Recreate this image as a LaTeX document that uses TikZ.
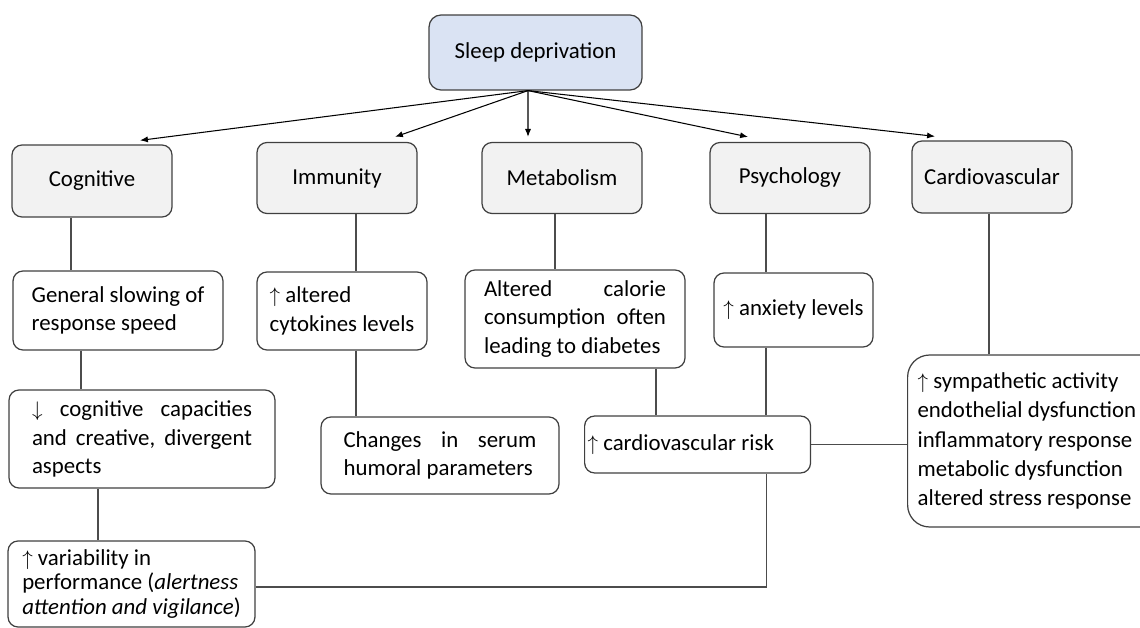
\documentclass[tikz,border=0pt]{standalone}
\usepackage{fontspec}
\setmainfont{Carlito}
\usetikzlibrary{arrows.meta}

\definecolor{rootblue}{HTML}{DAE3F3}
\newcommand{\upar}{$\uparrow$}
\newcommand{\dnar}{$\downarrow$}

\begin{document}
\begin{tikzpicture}[x=0.02cm, y=-0.02cm,
    font=\fontsize{13}{16.2}\selectfont,
    box/.style={draw=black!75, line width=0.7pt, rounded corners=0.2cm, inner sep=0pt},
    topic/.style={box, fill=black!5, minimum width=3.2cm, minimum height=1.42cm},
    effect/.style={box, fill=white},
    link/.style={draw=black!70, line width=0.6pt},
    arr/.style={-{Latex[length=4.5pt,width=3.5pt]}, line width=0.6pt}]
    \useasboundingbox (0,0) rectangle (1140,628);
    \clip (0,0) rectangle (1140,628);

    % Root
    \node[box, fill=rootblue, rounded corners=0.24cm, minimum width=4.26cm, minimum height=1.5cm] (sleep) at (535.5,52.5) {Sleep deprivation};

    % Areas
    \node[topic, minimum height=1.44cm] (cog) at (92,181) {Cognitive};
    \node[topic] (imm) at (337,178) {Immunity};
    \node[topic] (met) at (562,178) {Metabolism};
    \node[topic] (psy) at (790,178) {Psychology};
    \node[topic, minimum height=1.44cm] (car) at (992,177) {Cardiovascular};

    % Arrows
    \coordinate (hub) at ([xshift=-0.15cm]sleep.south);
    \draw[arr] (hub) -- ([xshift=0.96cm, yshift=0.08cm]cog.north);
    \draw[arr] (hub) -- ([xshift=1.16cm, yshift=0.1cm]imm.north);
    \draw[arr] (hub) -- ([xshift=-0.68cm, yshift=0.1cm]met.north);
    \draw[arr] (hub) -- ([xshift=-0.84cm, yshift=0.1cm]psy.north);
    \draw[arr] (hub) -- ([xshift=-1.14cm, yshift=0.08cm]car.north);

    % Second row
    \node[effect, align=left, minimum width=4.2cm, minimum height=1.58cm] (slow) at (118,310.5) {General slowing of\\response speed};
    \node[effect, align=left, minimum width=3.4cm, minimum height=1.56cm] (cyto) at (342,311) {\upar{} altered\\cytokines levels};
    \node[effect, text width=3.64cm, align=flush left, minimum width=4.4cm, minimum height=1.96cm] (cal) at (575,319) {Altered\hfill calorie\\consumption\hfill often\\leading to diabetes};
    \node[effect, minimum width=3.18cm, minimum height=1.48cm] (anx) at (793.5,310) {\upar{} anxiety levels};

    % Third row
    \node[effect, text width=4.4cm, align=flush left, minimum width=5.32cm, minimum height=1.96cm] (cap) at (142,439) {\dnar\hfill cognitive\hfill capacities\\and\hfill creative,\hfill divergent\\aspects};
    \node[effect, text width=3.86cm, align=flush left, minimum width=4.76cm, minimum height=1.54cm] (serum) at (440,455.5) {Changes\hfill in\hfill serum\\humoral parameters};
    \node[effect, text width=4.4cm, align=flush left, inner xsep=0.06cm, minimum height=1.14cm, anchor=west] (risk) at (584,444.5) {\upar{} cardiovascular risk};
    \node[effect, rounded corners=0.44cm, text width=4.8cm, align=flush left, inner xsep=0.2cm, minimum height=3.44cm, anchor=west, font=\fontsize{13}{16.7}\selectfont] (cvlist) at (907,441) {\upar{} sympathetic activity\\endothelial dysfunction\\inflammatory response\\metabolic dysfunction\\altered stress response};

    % Bottom row
    \node[effect, align=left, minimum width=4.94cm, minimum height=1.72cm, font=\fontsize{13}{14.2}\selectfont] (var) at (131.5,584) {\upar{} variability in\\performance (\textit{alertness}\\\textit{attention and vigilance})};

    % Links
    \draw[link] (cog.south) ++(-21,0) coordinate (t) -- (t |- slow.north);
    \draw[link] (slow.south) ++(-37,0) coordinate (t) -- (t |- cap.north);
    \draw[link] (cap.south) ++(-44,0) coordinate (t) -- (t |- var.north);
    \draw[link] (imm.south) ++(19,0) coordinate (t) -- (t |- cyto.north);
    \draw[link] (cyto.south) ++(14,0) coordinate (t) -- (t |- serum.north);
    \draw[link] (met.south) ++(-7,0) coordinate (t) -- (t |- cal.north);
    \draw[link] (cal.south) ++(81,0) coordinate (t) -- (t |- risk.north);
    \draw[link] (psy.south) ++(-24,0) coordinate (t) -- (t |- anx.north);
    \draw[link] (anx.south) ++(-27.5,0) coordinate (t) -- (t |- risk.north);
    \draw[link] (car.south) ++(-3,0) coordinate (t) -- (t |- cvlist.north);
    \draw[link] (risk.east) -- (risk.east -| cvlist.west);
    \draw[link] ([yshift=-0.06cm]var.east) -| ([xshift=1.38cm]risk.south);
\end{tikzpicture}
\end{document}
